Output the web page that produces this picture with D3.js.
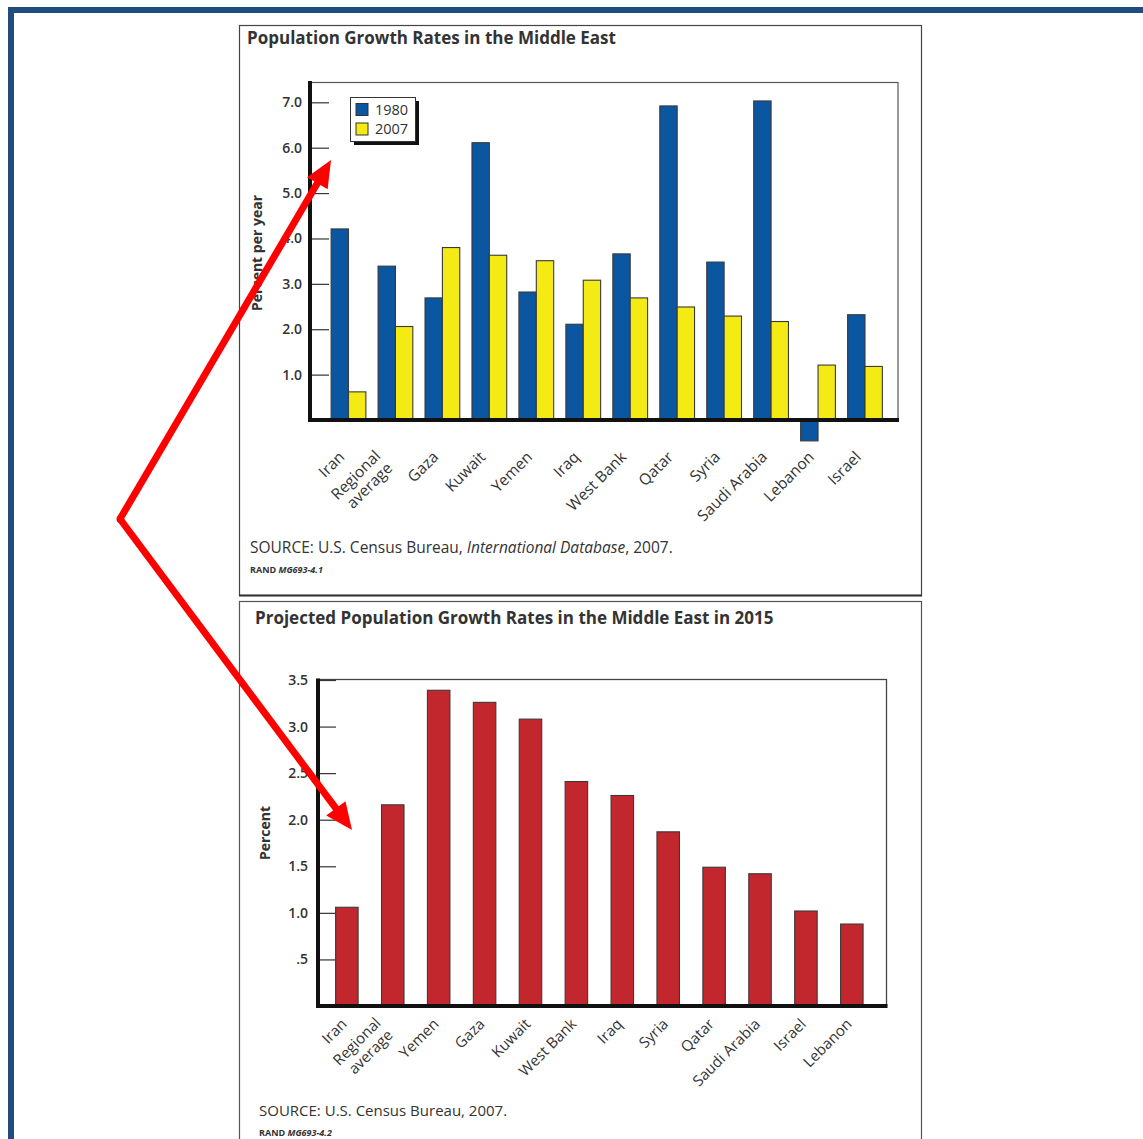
<!DOCTYPE html>
<html>
<head>
<meta charset="utf-8">
<script src="https://cdn.jsdelivr.net/npm/d3@7"></script>
<style>
  html, body { margin: 0; padding: 0; background: #fff; }
  svg { display: block; font-family: "Open Sans", "Noto Sans", sans-serif; }
</style>
</head>
<body>
<svg id="page" width="1143" height="1139"></svg>
<script>
// Population growth rates (percent per year), U.S. Census Bureau
const regions1 = ["Iran", "Regional average", "Gaza", "Kuwait", "Yemen", "Iraq",
  "West Bank", "Qatar", "Syria", "Saudi Arabia", "Lebanon", "Israel"];
const rate1980 = [4.21, 3.39, 2.69, 6.11, 2.82, 2.11, 3.66, 6.92, 3.48, 7.03, -0.46, 2.32];
const rate2007 = [0.62, 2.06, 3.80, 3.63, 3.51, 3.08, 2.69, 2.49, 2.29, 2.17, 1.21, 1.18];
const yearKeys = ["1980", "2007"];
const yTicks1 = [1, 2, 3, 4, 5, 6, 7];

// Projected rates for 2015
const regions2 = ["Iran", "Regional average", "Yemen", "Gaza", "Kuwait", "West Bank",
  "Iraq", "Syria", "Qatar", "Saudi Arabia", "Israel", "Lebanon"];
const rate2015 = [1.06, 2.16, 3.39, 3.26, 3.08, 2.41, 2.26, 1.87, 1.49, 1.42, 1.02, 0.88];
const yTicks2 = [0.5, 1, 1.5, 2, 2.5, 3, 3.5];
const yTickLabels2 = [".5", "1.0", "1.5", "2.0", "2.5", "3.0", "3.5"];

const colors = { "1980": "#0b56a1", "2007": "#f4ea14" };
const red2015 = "#c1272d";
const ink = "#333";

const svg = d3.select("#page");

// page border
svg.append("rect").attr("x", 11).attr("y", 10).attr("width", 1160).attr("height", 1160)
  .attr("fill", "none").attr("stroke", "#204c80").attr("stroke-width", 6);

// panel boxes
svg.append("rect").attr("x", 239.5).attr("y", 25.5).attr("width", 682).attr("height", 570)
  .attr("fill", "#fff").attr("stroke", "#444").attr("stroke-width", 1.2);
svg.append("line").attr("x1", 239).attr("x2", 922).attr("y1", 595.5).attr("y2", 595.5)
  .attr("stroke", "#333").attr("stroke-width", 2.2);
svg.append("rect").attr("x", 239.5).attr("y", 601.5).attr("width", 682).attr("height", 600)
  .attr("fill", "#fff").attr("stroke", "#555").attr("stroke-width", 1.2);

function wrapLabel(sel, lines, lineGap) {
  lines.forEach((ln, i) => {
    sel.append("tspan").attr("x", 0).attr("dy", i === 0 ? 0 : lineGap).text(ln);
  });
}

/* ---------- Chart 1: 1980 vs 2007 ---------- */
{
  const left = 310, right = 898, top = 82, base = 420;
  const g = svg.append("g");

  g.append("text").attr("x", 247).attr("y", 44).attr("fill", ink)
    .attr("font-size", 17).attr("font-weight", 700)
    .text("Population Growth Rates in the Middle East");

  const x = d3.scaleBand().domain(regions1).range([312, right])
    .paddingInner(0.26).paddingOuter(0.37).align(0.55);
  const xs = d3.scaleBand().domain(yearKeys).range([0, x.bandwidth()]);
  const y = d3.scaleLinear().domain([0, 7]).range([base, 102.3]);

  // plot frame
  g.append("rect").attr("x", left).attr("y", top + 0.5).attr("width", right - left)
    .attr("height", base - top).attr("fill", "none").attr("stroke", "#555").attr("stroke-width", 1.2);

  // y axis ticks and labels
  const yAxis = d3.axisLeft(y).tickValues(yTicks1).tickFormat(d3.format(".1f"))
    .tickSizeInner(-19).tickSizeOuter(0).tickPadding(8);
  const ag = g.append("g").attr("transform", `translate(${left},0)`).call(yAxis);
  ag.select(".domain").remove();
  ag.selectAll(".tick line").attr("stroke", ink).attr("stroke-width", 1.2);
  ag.selectAll(".tick text").attr("fill", ink).attr("font-size", 14).attr("font-weight", 600)
    .attr("font-family", "\"Open Sans\", sans-serif");

  g.append("text").attr("transform", `translate(262,253) rotate(-90)`)
    .attr("text-anchor", "middle").attr("fill", ink).attr("font-size", 14).attr("font-weight", 700)
    .text("Percent per year");

  // bars
  const series = { "1980": rate1980, "2007": rate2007 };
  const groups = g.append("g").selectAll("g").data(regions1).join("g")
    .attr("transform", d => `translate(${x(d)},0)`);
  groups.selectAll("rect").data((d, i) => yearKeys.map(k => ({ k, v: series[k][i] })))
    .join("rect")
    .attr("x", d => xs(d.k))
    .attr("width", xs.bandwidth())
    .attr("y", d => y(Math.max(0, d.v)))
    .attr("height", d => Math.abs(y(d.v) - y(0)))
    .attr("fill", d => colors[d.k]).attr("stroke", "#3a3a3a").attr("stroke-width", 1.1);

  // thick axis lines
  g.append("line").attr("x1", left).attr("x2", left).attr("y1", top - 1).attr("y2", base + 2)
    .attr("stroke", "#111").attr("stroke-width", 4);
  g.append("line").attr("x1", left - 2).attr("x2", right + 1).attr("y1", base).attr("y2", base)
    .attr("stroke", "#111").attr("stroke-width", 4);

  // category labels
  const lab = g.append("g").selectAll("text").data(regions1).join("text")
    .attr("transform", d => d.startsWith("Regional")
      ? `translate(${x(d) + x.bandwidth() / 2 - 14},457) rotate(-45)`
      : `translate(${x(d) + x.bandwidth() / 2 - 3},458) rotate(-45)`)
    .attr("text-anchor", "end").attr("fill", ink).attr("font-size", 15.5);
  lab.each(function (d) { wrapLabel(d3.select(this), d.startsWith("Regional") ? ["Regional", "average"] : [d], 17); });

  // legend
  const lg = g.append("g").attr("transform", "translate(350,97)");
  lg.append("rect").attr("x", 4).attr("y", 4).attr("width", 65).attr("height", 44).attr("fill", "#111");
  lg.append("rect").attr("x", 0.5).attr("y", 0.5).attr("width", 65).attr("height", 44)
    .attr("fill", "#fff").attr("stroke", "#333").attr("stroke-width", 1);
  yearKeys.forEach((k, i) => {
    lg.append("rect").attr("x", 6).attr("y", 6.5 + i * 19.5).attr("width", 12).attr("height", 12)
      .attr("fill", colors[k]).attr("stroke", "#333").attr("stroke-width", 1);
    lg.append("text").attr("x", 25).attr("y", 17.5 + i * 19.5).attr("fill", ink)
      .attr("font-size", 14.5).text(k);
  });

  // source note
  const src = g.append("text").attr("x", 250).attr("y", 553).attr("fill", ink).attr("font-size", 15.5);
  src.append("tspan").text("SOURCE: U.S. Census Bureau, ");
  src.append("tspan").attr("font-style", "italic").text("International Database");
  src.append("tspan").text(", 2007.");
  const rn = g.append("text").attr("x", 250).attr("y", 573).attr("fill", ink)
    .attr("font-size", 9).attr("font-weight", 700);
  rn.append("tspan").text("RAND ");
  rn.append("tspan").attr("font-style", "italic").text("MG693-4.1");
}

/* ---------- Chart 2: projected 2015 ---------- */
{
  const left = 318, right = 886.5, top = 679.5, base = 1006;
  const g = svg.append("g");

  g.append("text").attr("x", 255).attr("y", 624).attr("fill", ink)
    .attr("font-size", 17).attr("font-weight", 700)
    .text("Projected Population Growth Rates in the Middle East in 2015");

  const x = d3.scaleBand().domain(regions2).range([320, right])
    .paddingInner(0.51).paddingOuter(0.425).align(0.4);
  const y = d3.scaleLinear().domain([0, 3.5]).range([base, 680]);

  g.append("rect").attr("x", left).attr("y", top).attr("width", right - left)
    .attr("height", base - top).attr("fill", "none").attr("stroke", "#444").attr("stroke-width", 1.3);

  const yAxis = d3.axisLeft(y).tickValues(yTicks2)
    .tickFormat((d, i) => yTickLabels2[i])
    .tickSizeInner(-18).tickSizeOuter(0).tickPadding(10);
  const ag = g.append("g").attr("transform", `translate(${left},0)`).call(yAxis);
  ag.select(".domain").remove();
  ag.selectAll(".tick line").attr("stroke", ink).attr("stroke-width", 1.2);
  ag.selectAll(".tick text").attr("fill", ink).attr("font-size", 14).attr("font-weight", 600)
    .attr("font-family", "\"Open Sans\", sans-serif");

  g.append("text").attr("transform", `translate(270,833) rotate(-90)`)
    .attr("text-anchor", "middle").attr("fill", ink).attr("font-size", 14).attr("font-weight", 700)
    .text("Percent");

  g.append("g").selectAll("rect").data(regions2).join("rect")
    .attr("x", d => x(d)).attr("width", x.bandwidth())
    .attr("y", (d, i) => y(rate2015[i]))
    .attr("height", (d, i) => y(0) - y(rate2015[i]))
    .attr("fill", red2015).attr("stroke", "#3a3a3a").attr("stroke-width", 1.1);

  g.append("line").attr("x1", left).attr("x2", left).attr("y1", top - 1).attr("y2", base + 2)
    .attr("stroke", "#111").attr("stroke-width", 4);
  g.append("line").attr("x1", left - 2).attr("x2", right + 1).attr("y1", base).attr("y2", base)
    .attr("stroke", "#111").attr("stroke-width", 4);

  const lab = g.append("g").selectAll("text").data(regions2).join("text")
    .attr("transform", d => d.startsWith("Regional")
      ? `translate(${x(d) + x.bandwidth() / 2 - 11},1024) rotate(-45)`
      : `translate(${x(d) + x.bandwidth() / 2 + 1},1025) rotate(-45)`)
    .attr("text-anchor", "end").attr("fill", ink).attr("font-size", 15);
  lab.each(function (d) { wrapLabel(d3.select(this), d.startsWith("Regional") ? ["Regional", "average"] : [d], 17); });

  g.append("text").attr("x", 259).attr("y", 1116).attr("fill", ink).attr("font-size", 15)
    .text("SOURCE: U.S. Census Bureau, 2007.");
  const rn = g.append("text").attr("x", 259).attr("y", 1136).attr("fill", ink)
    .attr("font-size", 9).attr("font-weight", 700);
  rn.append("tspan").text("RAND ");
  rn.append("tspan").attr("font-style", "italic").text("MG693-4.2");
}

/* ---------- red annotation arrows ---------- */
{
  const red = "#ff0000";
  const vertex = [120, 519];
  const tips = [[331, 160], [352, 830]];
  const ag = svg.append("g");
  tips.forEach(tip => {
    const dx = tip[0] - vertex[0], dy = tip[1] - vertex[1];
    const len = Math.hypot(dx, dy), ux = dx / len, uy = dy / len;
    const headLen = 27, headHalf = 12;
    const bx = tip[0] - ux * headLen, by = tip[1] - uy * headLen;
    ag.append("line").attr("x1", vertex[0]).attr("y1", vertex[1])
      .attr("x2", bx + ux * 2).attr("y2", by + uy * 2)
      .attr("stroke", red).attr("stroke-width", 7).attr("stroke-linecap", "butt");
    ag.append("path").attr("fill", red)
      .attr("d", d3.line()([
        tip,
        [bx - uy * headHalf, by + ux * headHalf],
        [bx + uy * headHalf, by - ux * headHalf]
      ]) + "Z");
  });
  ag.append("circle").attr("cx", vertex[0]).attr("cy", vertex[1]).attr("r", 3.5).attr("fill", red);
}
</script>
</body>
</html>
